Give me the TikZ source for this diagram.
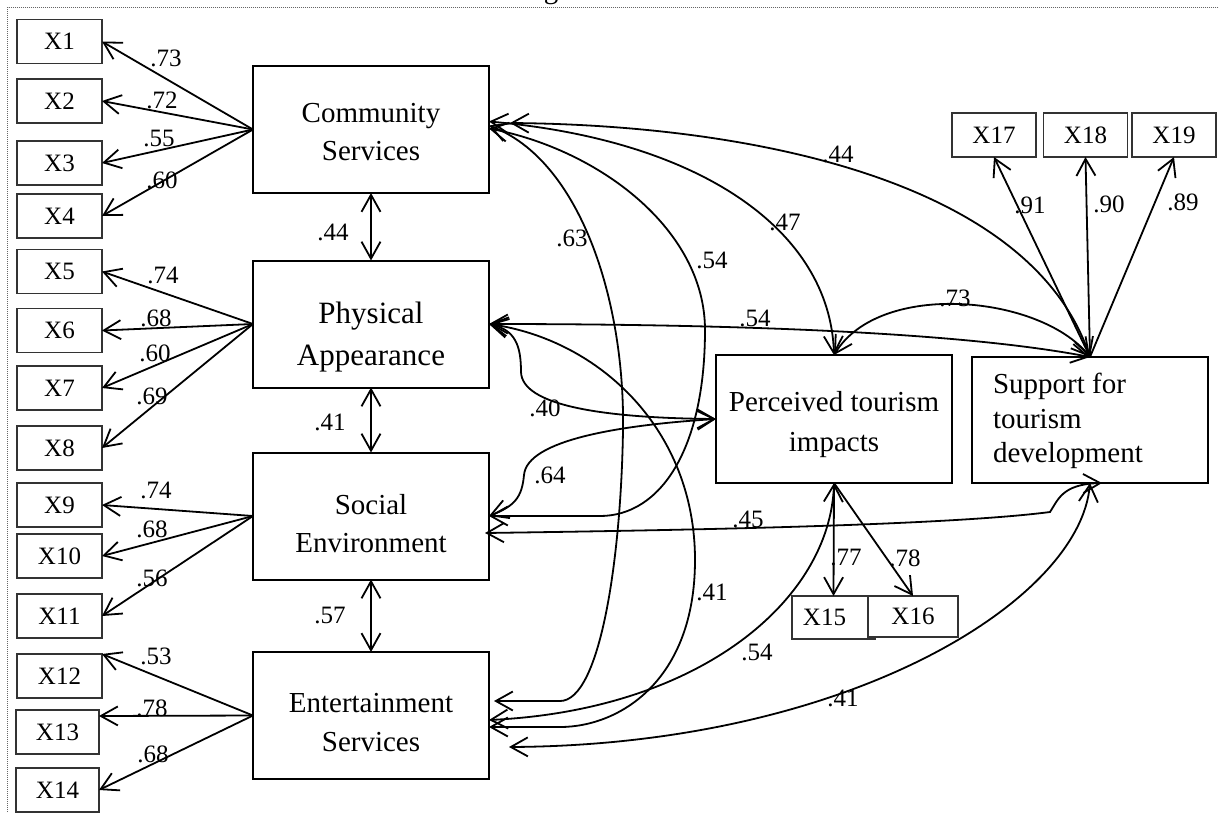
\documentclass[tikz,border=0pt]{standalone}
\usepackage{fontspec}
\setmainfont{Liberation Serif}
\usetikzlibrary{arrows.meta}
\begin{document}
\begin{tikzpicture}[x=1pt,y=-1pt,
  every node/.style={inner sep=0pt, outer sep=0pt},
  obs/.style={draw=black!80, line width=1.2pt, fill=white, minimum width=85pt, minimum height=44pt, font=\fontsize{25}{30}\selectfont},
  lat/.style={draw, line width=2pt, minimum width=236pt, minimum height=127pt},
  lt/.style={font=\fontsize{29}{35}\selectfont, anchor=base},
  ltb/.style={font=\fontsize{31}{37}\selectfont, anchor=base},
  coef/.style={font=\fontsize{25}{30}\selectfont},
  ar/.style={line width=1.8pt, -{Straight Barb[length=17pt,width=19pt]}},
  dar/.style={line width=1.8pt, {Straight Barb[length=17pt,width=19pt]}-{Straight Barb[length=17pt,width=19pt]}},
  border/.style={draw=black!60, line width=1pt, dash pattern=on 1pt off 1pt}
]
\useasboundingbox (0,0) rectangle (1219,812);
\fill[white] (0,0) rectangle (1219,812);
\draw[border] (7.5,812) -- (7.5,7) -- (1219,7);
\node[font=\fontsize{29}{30}\selectfont, anchor=base] (ttl) at (551,-2) {g};

% observed indicators (left)
\node[obs] (X1) at (59.5,41.5) {X1};
\node[obs] (X2) at (59.5,101) {X2};
\node[obs] (X3) at (59.5,163) {X3};
\node[obs] (X4) at (59.5,216) {X4};
\node[obs] (X5) at (59.5,271.5) {X5};
\node[obs] (X6) at (59.5,330.5) {X6};
\node[obs] (X7) at (59.5,388) {X7};
\node[obs] (X8) at (59.5,448) {X8};
\node[obs] (X9) at (59.5,505) {X9};
\node[obs] (X10) at (59.5,556) {X10};
\node[obs] (X11) at (59.5,616) {X11};
\node[obs] (X12) at (59.5,676) {X12};
\node[obs, minimum width=83pt] (X13) at (57.5,732) {X13};
\node[obs, minimum width=83pt] (X14) at (57.5,790) {X14};

% latent boxes
\node[lat] (CS) at (371,129.5) {};
\node[lat] (PA) at (371,324) {};
\node[lat] (SE) at (371,516) {};
\node[lat] (ES) at (371,715.5) {};
\node[lat, minimum height=128pt] (PT) at (834,419) {};
\node[lat, minimum height=126pt] (SP) at (1090,420) {};

\node[lt] (CSa) at (371,122) {Community};
\node[lt] (CSb) at (371,160) {Services};
\node[ltb] (PAa) at (371,323) {Physical};
\node[ltb] (PAb) at (371,365) {Appearance};
\node[lt] (SEa) at (371,514) {Social};
\node[lt] (SEb) at (371,552) {Environment};
\node[lt] (ESa) at (371,712) {Entertainment};
\node[lt] (ESb) at (371,751) {Services};
\node[lt] (PTa) at (834,411) {Perceived tourism};
\node[lt] (PTb) at (834,451) {impacts};
\node[lt, anchor=base west] (SPa) at (993,393) {Support for};
\node[lt, anchor=base west] (SPb) at (993,428) {tourism};
\node[lt, anchor=base west] (SPc) at (993,462) {development};

% right indicators
\node[obs, minimum width=84pt] (X17) at (994,135) {X17};
\node[obs, minimum width=84pt] (X18) at (1085.5,135) {X18};
\node[obs, minimum width=84pt] (X19) at (1174,135) {X19};
\node[obs, minimum width=83pt, minimum height=43pt] (X15) at (833.5,617.5) {\hspace*{-18pt}X15};
\node[obs, minimum width=90pt, minimum height=41pt] (X16) at (913,616.5) {X16};

% loadings (left)
\draw[ar] (CS.west) -- (X1.east);
\draw[ar] (CS.west) -- (X2.east);
\draw[ar] (CS.west) -- (X3.east);
\draw[ar] (CS.west) -- (X4.east);
\draw[ar] (PA.west) -- (X5.east);
\draw[ar] (PA.west) -- (X6.east);
\draw[ar] (PA.west) -- (X7.east);
\draw[ar] (PA.west) -- (X8.east);
\draw[ar] (SE.west) -- (X9.east);
\draw[ar] (SE.west) -- (X10.east);
\draw[ar] (SE.west) -- (X11.east);
\draw[ar] (ES.west) -- (X12.north east);
\draw[ar] (ES.west) -- ([yshift=16pt]X13.east);
\draw[ar] (ES.west) -- (X14.east);

% loadings (right)
\draw[ar] (SP.north) -- (X17.south);
\draw[ar] (SP.north) -- (X18.south);
\draw[ar] (SP.north) -- (X19.south);
\draw[ar] (PT.south) -- (X15.north);
\draw[ar] (PT.south) -- (X16.north);

% vertical correlations
\draw[dar] (CS.south) -- (PA.north);
\draw[dar] (PA.south) -- (SE.north);
\draw[dar] (SE.south) -- (ES.north);

% curved correlations
\draw[dar] ([xshift=21pt,yshift=6.5pt]CS.east) .. controls (750,125) and (1030,180) .. (SP.north);
\draw[dar] ([yshift=8pt]CS.east) .. controls (700,140) and (830,230) .. (PT.north);
\draw[dar] ([yshift=1pt]CS.east) .. controls (600,150) and (705,230) .. (705,330) .. controls (705,450) and (660,516) .. (600,516) -- (SE.east);
\draw[dar] ([yshift=4pt]CS.east) .. controls (580,160) and (625,300) .. (623,430) .. controls (621,560) and (600,701) .. (560,701) -- ([xshift=5pt,yshift=14.5pt]ES.east);
\draw[dar] (PA.east) .. controls (700,324) and (950,330) .. (SP.north);
\draw[dar] (PA.east) .. controls (515,330) and (521,345) .. (521,372) .. controls (522,405) and (600,418) .. (PT.west);
\draw[dar] (PA.east) .. controls (600,340) and (695,430) .. (695,560) .. controls (695,680) and (620,727) .. (560,727) -- ([yshift=-11.5pt]ES.east);
\draw[dar] (SE.east) .. controls (515,506) and (522,497) .. (524,475) .. controls (527,440) and (620,425) .. (PT.west);
\draw[dar] ([xshift=-4pt,yshift=-17pt]SE.east) .. controls (700,530) and (950,525) .. (1050,512) .. controls (1058,500) and (1062,484) .. ([xshift=12pt]SP.south);
\draw[dar] (PT.south) .. controls (830,600) and (700,710) .. ([yshift=-4.5pt]ES.east);
\draw[dar] (SP.south) .. controls (1080,600) and (850,745) .. ([xshift=20pt,yshift=-31.5pt]ES.east);
\draw[dar] (SP.north) .. controls (1040,295) and (880,280) .. (PT.north);

% coefficient labels
\node[coef] (l1) at (166,58) {.73};
\node[coef] (l2) at (162,100) {.72};
\node[coef] (l3) at (159,138) {.55};
\node[coef] (l4) at (162,180) {.60};
\node[coef] (l5) at (163,275) {.74};
\node[coef] (l6) at (156,318) {.68};
\node[coef] (l7) at (155,353) {.60};
\node[coef] (l8) at (152,396) {.69};
\node[coef] (l9) at (156,490) {.74};
\node[coef] (l10) at (152,529) {.68};
\node[coef] (l11) at (152,578) {.56};
\node[coef] (l12) at (156,656) {.53};
\node[coef] (l13) at (152,708) {.78};
\node[coef] (l14) at (153,754) {.68};
\node[coef] (c1) at (333,232) {.44};
\node[coef] (c2) at (330,422) {.41};
\node[coef] (c3) at (330,615) {.57};
\node[coef] (c4) at (572,238) {.63};
\node[coef] (c5) at (712,260) {.54};
\node[coef] (c6) at (785,222) {.47};
\node[coef] (c7) at (838,154) {.44};
\node[coef] (r1) at (1030,205) {.91};
\node[coef] (r2) at (1109,204) {.90};
\node[coef] (r3) at (1183,202) {.89};
\node[coef] (c8) at (955,298) {.73};
\node[coef] (c9) at (755,318) {.54};
\node[coef] (c10) at (545,408) {.40};
\node[coef] (c11) at (550,475) {.64};
\node[coef] (c12) at (748,519) {.45};
\node[coef] (r4) at (846,557) {.77};
\node[coef] (r5) at (905,558) {.78};
\node[coef] (c13) at (712,592) {.41};
\node[coef] (c14) at (757,652) {.54};
\node[coef] (c15) at (843,698) {.41};
\end{tikzpicture}
\end{document}
